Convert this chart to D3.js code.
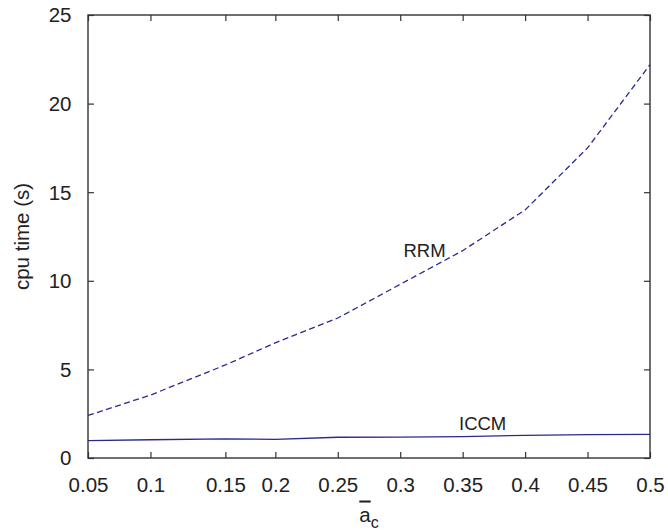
<!DOCTYPE html>
<html>
<head>
<meta charset="utf-8">
<script src="https://cdn.jsdelivr.net/npm/d3@7"></script>
<style>
  html, body { margin: 0; padding: 0; background: #fff; }
  svg { display: block; }
  text { font-family: "Liberation Sans", Arial, Helvetica, sans-serif; fill: #222; }
</style>
</head>
<body>
<svg id="chart" width="668" height="530"></svg>
<script>
// ---- data ----
const xValues = [0.05, 0.1, 0.16, 0.2, 0.25, 0.3, 0.35, 0.4, 0.45, 0.5];
const rrmValues = [2.4, 3.55, 5.25, 6.5, 7.9, 9.8, 11.7, 14.0, 17.5, 22.2];
const iccmValues = [0.98, 1.03, 1.08, 1.05, 1.17, 1.18, 1.21, 1.28, 1.32, 1.33];
const xTickValues = [0.05, 0.1, 0.16, 0.2, 0.25, 0.3, 0.35, 0.4, 0.45, 0.5];
const xTickLabels = ["0.05", "0.1", "0.15", "0.2", "0.25", "0.3", "0.35", "0.4", "0.45", "0.5"];
const yTickValues = [0, 5, 10, 15, 20, 25];
const seriesNames = ["RRM", "ICCM"];

// ---- layout ----
const margin = { left: 88, right: 18, top: 15, bottom: 72 };
const W = 668, H = 530;
const svg = d3.select("#chart");
const x = d3.scaleLinear().domain([0.05, 0.5]).range([margin.left, W - margin.right]);
const y = d3.scaleLinear().domain([0, 25]).range([H - margin.bottom, margin.top]);

const lineColor = "#2a2a8e";
const axisColor = "#333";
const fontSize = 20.5;

// ---- lines ----
const line = (vals) => d3.line().x((d, i) => x(xValues[i])).y(d => y(d))(vals);

svg.append("path").attr("d", line(rrmValues))
  .attr("fill", "none").attr("stroke", lineColor).attr("stroke-width", 1.3)
  .attr("stroke-dasharray", "6,3.5");
svg.append("path").attr("d", line(iccmValues))
  .attr("fill", "none").attr("stroke", lineColor).attr("stroke-width", 1.3);

// ---- axes ----
function styleAxis(g) {
  g.select(".domain").remove();
  g.selectAll(".tick line").attr("stroke", axisColor).attr("stroke-width", 1.2);
  g.selectAll(".tick text").attr("fill", "#222").attr("font-size", fontSize)
    .attr("font-family", "Liberation Sans, Arial, sans-serif");
}

const xAxis = svg.append("g").attr("transform", `translate(0,${y(0)})`)
  .call(d3.axisBottom(x).tickValues(xTickValues)
    .tickFormat((d, i) => xTickLabels[i]).tickSizeInner(-6).tickSizeOuter(0).tickPadding(19));
styleAxis(xAxis);

const yAxis = svg.append("g").attr("transform", `translate(${x(0.05)},0)`)
  .call(d3.axisLeft(y).tickValues(yTickValues).tickFormat(d3.format("d"))
    .tickSizeInner(-6).tickSizeOuter(0).tickPadding(16.5));
styleAxis(yAxis);
yAxis.selectAll(".tick text").attr("dy", "0.34em");

const xTop = svg.append("g").attr("transform", `translate(0,${y(25)})`)
  .call(d3.axisTop(x).tickValues(xTickValues).tickFormat("").tickSizeInner(-6).tickSizeOuter(0));
styleAxis(xTop);

const yRight = svg.append("g").attr("transform", `translate(${x(0.5)},0)`)
  .call(d3.axisRight(y).tickValues(yTickValues).tickFormat("").tickSizeInner(-6).tickSizeOuter(0));
styleAxis(yRight);

// frame
svg.append("rect")
  .attr("x", x(0.05)).attr("y", y(25))
  .attr("width", x(0.5) - x(0.05)).attr("height", y(0) - y(25))
  .attr("fill", "none").attr("stroke", axisColor).attr("stroke-width", 1.4);

// ---- series labels ----
svg.append("text").attr("x", x(0.3195)).attr("y", y(11.33))
  .attr("text-anchor", "middle").attr("font-size", 18.5).attr("fill", "#333")
  .text(seriesNames[0]);
svg.append("text").attr("x", x(0.366)).attr("y", y(1.6))
  .attr("text-anchor", "middle").attr("font-size", 18.5).attr("fill", "#333")
  .text(seriesNames[1]);

// ---- axis titles ----
const xt = svg.append("text")
  .attr("x", (x(0.05) + x(0.5)) / 2).attr("y", 521.5)
  .attr("text-anchor", "middle").attr("font-size", fontSize);
xt.append("tspan").text("a").style("text-decoration", "overline");
xt.append("tspan").attr("dy", 6.5).attr("font-size", 16).text("c");

svg.append("text")
  .attr("transform", `translate(28.7,${(y(0) + y(25)) / 2}) rotate(-90)`)
  .attr("text-anchor", "middle").attr("font-size", fontSize)
  .text("cpu time (s)");
</script>
</body>
</html>
